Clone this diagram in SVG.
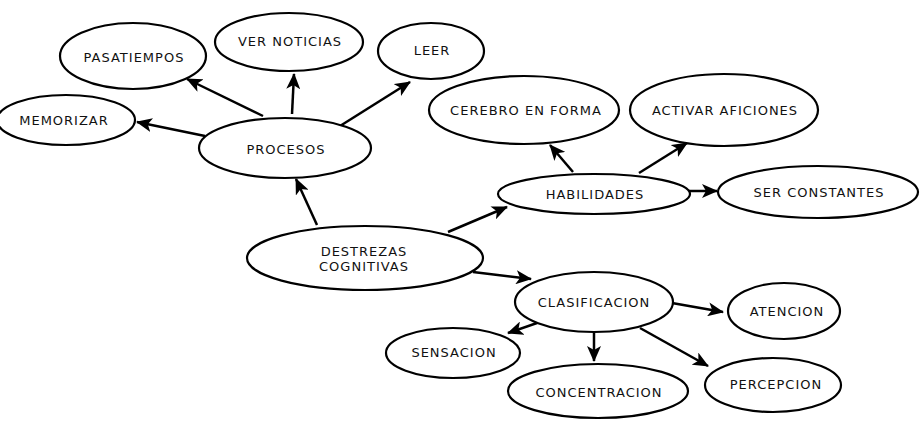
<svg xmlns="http://www.w3.org/2000/svg" width="921" height="423" viewBox="0 0 921 423">
<style>
.n ellipse{fill:#fff;stroke:#000;stroke-width:2.2}
.n text{font-family:"DejaVu Sans",sans-serif;font-size:13px;letter-spacing:1px;text-anchor:middle;fill:#111}
.c line{stroke:#000;stroke-width:2.5;marker-end:url(#ah)}
</style>
<defs>
<marker id="ah" markerUnits="userSpaceOnUse" markerWidth="16" markerHeight="14" viewBox="0 0 16 14" refX="15" refY="7" orient="auto">
<path d="M0,0 L16,7 L0,14 L4,7 z" fill="#000"/>
</marker>
</defs>
<rect width="921" height="423" fill="#fff"/>
<g class="c" id="connectors">
<line x1="263" y1="116" x2="187" y2="79"/>
<line x1="292" y1="114" x2="294" y2="74"/>
<line x1="340" y1="126" x2="410" y2="82"/>
<line x1="205" y1="136" x2="137" y2="122"/>
<line x1="317" y1="225" x2="296" y2="179"/>
<line x1="573" y1="172" x2="550" y2="145"/>
<line x1="639" y1="173" x2="687" y2="143"/>
<line x1="689" y1="191" x2="717" y2="191"/>
<line x1="448" y1="232" x2="507" y2="207"/>
<line x1="473" y1="272" x2="531" y2="279"/>
<line x1="672" y1="303" x2="723" y2="312"/>
<line x1="537" y1="323" x2="508" y2="333"/>
<line x1="594" y1="333" x2="594" y2="361"/>
<line x1="640" y1="328" x2="708" y2="366"/>
</g>
<g class="n" id="pasatiempos"><ellipse cx="133" cy="56" rx="73" ry="33"/><text x="134" y="62">PASATIEMPOS</text></g>
<g class="n" id="ver-noticias"><ellipse cx="289" cy="42" rx="74" ry="29"/><text x="290" y="46">VER NOTICIAS</text></g>
<g class="n" id="leer"><ellipse cx="431" cy="51" rx="53" ry="28"/><text x="432" y="55">LEER</text></g>
<g class="n" id="memorizar"><ellipse cx="66" cy="120" rx="69" ry="25"/><text x="64" y="125">MEMORIZAR</text></g>
<g class="n" id="procesos"><ellipse cx="285" cy="148" rx="86" ry="30"/><text x="286" y="154">PROCESOS</text></g>
<g class="n" id="cerebro"><ellipse cx="524" cy="110" rx="95" ry="34"/><text x="526" y="115">CEREBRO EN FORMA</text></g>
<g class="n" id="activar"><ellipse cx="724" cy="110" rx="94" ry="36"/><text x="725" y="115">ACTIVAR AFICIONES</text></g>
<g class="n" id="habilidades"><ellipse cx="594" cy="194" rx="96" ry="20"/><text x="595" y="199">HABILIDADES</text></g>
<g class="n" id="ser-constantes"><ellipse cx="818" cy="192" rx="100" ry="26"/><text x="819" y="197">SER CONSTANTES</text></g>
<g class="n" id="destrezas"><ellipse cx="365" cy="258" rx="118" ry="32"/><text x="364" y="256">DESTREZAS</text><text x="364" y="271">COGNITIVAS</text></g>
<g class="n" id="clasificacion"><ellipse cx="594" cy="302" rx="79" ry="30"/><text x="594" y="307">CLASIFICACION</text></g>
<g class="n" id="atencion"><ellipse cx="784" cy="311" rx="56" ry="28"/><text x="787" y="316">ATENCION</text></g>
<g class="n" id="sensacion"><ellipse cx="453" cy="353" rx="67" ry="25"/><text x="454" y="357">SENSACION</text></g>
<g class="n" id="concentracion"><ellipse cx="598" cy="391" rx="90" ry="27"/><text x="599" y="397">CONCENTRACION</text></g>
<g class="n" id="percepcion"><ellipse cx="773" cy="385" rx="68" ry="27"/><text x="776" y="389">PERCEPCION</text></g>
</svg>
